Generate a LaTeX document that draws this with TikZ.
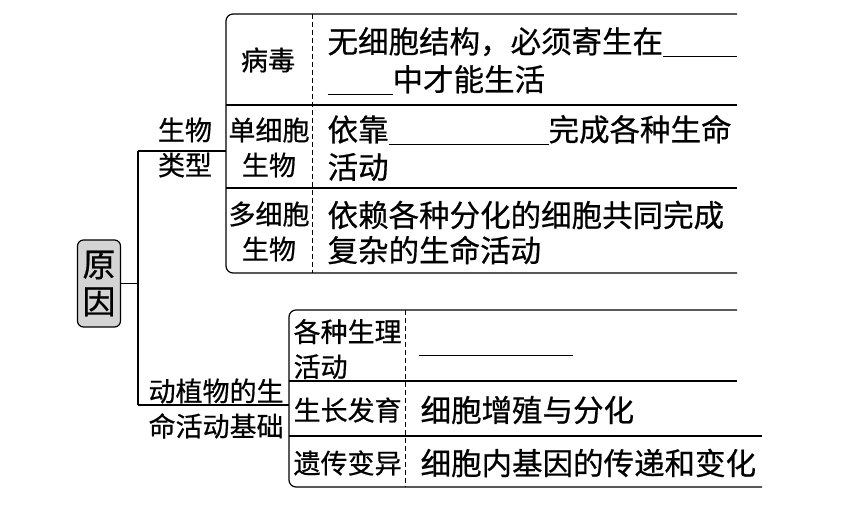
\documentclass[tikz,border=0pt]{standalone}
\usepackage{fontspec}
\setmainfont{Noto Sans CJK SC}[FakeBold=0.6]
\newcommand{\blankline}[1]{\rule[-4pt]{#1}{1.1pt}}
\begin{document}
\begin{tikzpicture}[x=1pt,y=-1pt,
  line width=1.2pt,
  frame/.style={line width=1.2pt, rounded corners=7pt},
  divline/.style={line width=1.1pt},
  dashsep/.style={line width=1pt, dash pattern=on 5pt off 3pt},
  conn/.style={line width=1.2pt},
  body/.style={inner sep=0pt, anchor=west, font=\fontsize{30.5pt}{37pt}\selectfont},
  lab/.style={inner sep=0pt, font=\fontsize{27pt}{35pt}\selectfont},
  rootbox/.style={draw, line width=1.2pt, fill=black!17, rounded corners=6pt,
     minimum width=43pt, minimum height=87pt, inner sep=0pt, align=center,
     font=\fontsize{33pt}{37pt}\selectfont}
]
\useasboundingbox (0,0) rectangle (863,513);
\fill[white] (0,0) rectangle (863,513);

% root
\node[rootbox] (root) at (99,283.5) {原\\因};

% junctions
\coordinate (jt) at (138,151);
\coordinate (jb) at (138,405);
\coordinate (tb) at (226,151);
\coordinate (bb) at (289,405);
\draw[conn] (root.east) -- (root.east -| jt);
\draw[conn] (jt) -- (jb);
\draw[conn] (jt) -- (tb);
\draw[conn] (jb) -- (bb);

% top group frame
\draw[frame] (737,14) -- (226,14) -- (226,273) -- (737,273);
\draw[divline] (226,105) -- (737,105);
\draw[divline] (226,188) -- (737,188);
\draw[dashsep] (312,14) -- (312,273);

% bottom group frame
\draw[frame] (737,310) -- (289,310) -- (289,487) -- (762,487);
\draw[divline] (289,381) -- (737,381);
\draw[divline] (289,436) -- (762,436);
\draw[dashsep] (405,310) -- (405,487);

% branch labels
\node[lab, align=center] (type) at (185,147.5) {生物\\类型};
\node[lab, align=left, anchor=west] (base) at (148,408.5) {动植物的生\\命活动基础};

% top group labels
\node[lab] (virus) at (268,60) {病毒};
\node[lab, align=center] (uni) at (269,147.5) {单细胞\\生物};
\node[lab, align=center] (multi) at (269,231.5) {多细胞\\生物};

% top group bodies
\node[body] (v1) at (327,42) {无细胞结构，必须寄生在\blankline{74pt}};
\node[body] (v2) at (327,80) {\blankline{65pt}中才能生活};
\node[body] (u1) at (327,130) {依靠\blankline{160pt}完成各种生命};
\node[body] (u2) at (327,167) {活动};
\node[body] (m1) at (327,215) {依赖各种分化的细胞共同完成};
\node[body] (m2) at (327,250) {复杂的生命活动};

% bottom group labels
\node[lab, align=left, anchor=west] (phys) at (293,349) {各种生理\\活动};
\node[lab, anchor=west] (grow) at (293,410) {生长发育};
\node[lab, anchor=west] (gen) at (293,463) {遗传变异};

% bottom group bodies
\node[body] (p1) at (418,349) {\rule[-14pt]{154pt}{1.1pt}};
\node[body] (g1) at (420,410) {细胞增殖与分化};
\node[body] (h1) at (420,463) {细胞内基因的传递和变化};
\end{tikzpicture}
\end{document}
